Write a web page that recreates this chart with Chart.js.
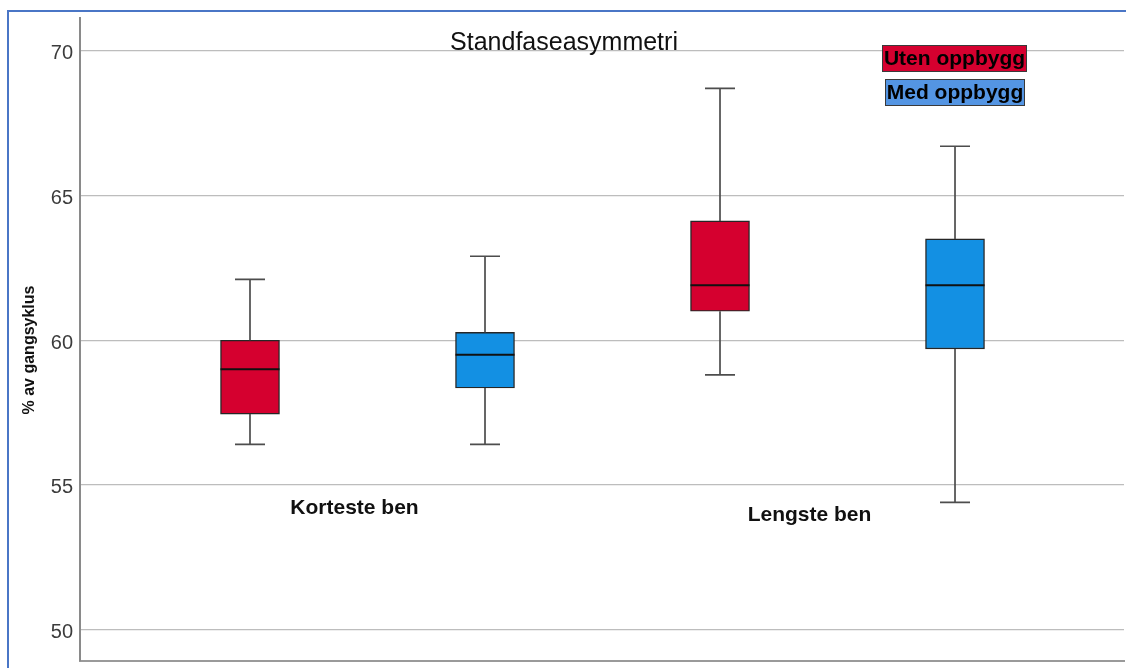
<!DOCTYPE html>
<html>
<head>
<meta charset="utf-8">
<script src="https://cdn.jsdelivr.net/npm/chart.js@4.4.1/dist/chart.umd.min.js"></script>
<style>
  html, body { margin: 0; padding: 0; background: #ffffff; }
  #wrap { position: relative; width: 1126px; height: 668px; overflow: hidden; }
  canvas { position: absolute; left: 0; top: 0; }
  #frame { position: absolute; left: 7px; top: 10px; width: 1130px; height: 670px;
           border-left: 2px solid #4a76c6; border-top: 2px solid #4a76c6; pointer-events: none; }
</style>
</head>
<body>
<div id="wrap">
  <canvas id="chart" width="1126" height="668"></canvas>
  <div id="frame"></div>
</div>
<script>
// Groups along the horizontal axis and the two conditions compared in each
const categories = ['Korteste ben', 'Lengste ben'];
const seriesNames = ['Uten oppbygg', 'Med oppbygg'];

// Five-number summaries, one value per group
const utenMin    = [56.4, 58.8];
const utenQ1     = [57.45, 61.0];
const utenMedian = [59.0, 61.9];
const utenQ3     = [60.0, 64.12];
const utenMax    = [62.1, 68.7];

const medMin     = [56.4, 54.4];
const medQ1      = [58.35, 59.7];
const medMedian  = [59.5, 61.9];
const medQ3      = [60.27, 63.5];
const medMax     = [62.9, 66.7];

const yTicks = [50, 55, 60, 65, 70];

const chartTitle = 'Standfaseasymmetri';
const yTitle = '% av gangsyklus';

const FONT = "'Liberation Sans', Arial, Helvetica, sans-serif";
const boxColors = ['#d5002f', '#1390e3'];
const keyColors = ['#d5002f', '#5495e3'];

function makeSeries(s, q1, q3, lo, med, hi) {
  return {
    label: seriesNames[s],
    data: categories.map((c, i) => ({ x: i * 2 + s + 1, y: [q1[i], q3[i]] })),
    stats: { min: lo, median: med, max: hi },
    backgroundColor: boxColors[s],
    borderColor: '#262626',
    borderWidth: 1.4,
    borderSkipped: false,
    barThickness: 59,
    grouped: false
  };
}

// Whiskers, caps and median lines on top of the floating boxes
const whiskerPlugin = {
  id: 'whiskers',
  afterDatasetsDraw(chart) {
    const ctx = chart.ctx;
    const y = chart.scales.y;
    chart.data.datasets.forEach((ds, d) => {
      const meta = chart.getDatasetMeta(d);
      meta.data.forEach((el, i) => {
        const x = el.x, hw = el.width / 2;
        const yMin = y.getPixelForValue(ds.stats.min[i]);
        const yMax = y.getPixelForValue(ds.stats.max[i]);
        const yMed = y.getPixelForValue(ds.stats.median[i]);
        const yQ1 = y.getPixelForValue(ds.data[i].y[0]);
        const yQ3 = y.getPixelForValue(ds.data[i].y[1]);
        ctx.save();
        ctx.strokeStyle = '#4d4d4d';
        ctx.lineWidth = 1.7;
        ctx.beginPath();
        ctx.moveTo(x, yMax); ctx.lineTo(x, yQ3);
        ctx.moveTo(x, yQ1); ctx.lineTo(x, yMin);
        ctx.moveTo(x - 15, yMax); ctx.lineTo(x + 15, yMax);
        ctx.moveTo(x - 15, yMin); ctx.lineTo(x + 15, yMin);
        ctx.stroke();
        ctx.strokeStyle = '#111111';
        ctx.lineWidth = 2;
        ctx.beginPath();
        ctx.moveTo(x - hw, yMed); ctx.lineTo(x + hw, yMed);
        ctx.stroke();
        ctx.restore();
      });
    });
  }
};

// Title, group labels, axis title and the colour key
const textPlugin = {
  id: 'texts',
  afterDraw(chart) {
    const ctx = chart.ctx;
    const xs = chart.scales.x;
    ctx.save();
    ctx.fillStyle = '#111111';
    ctx.textAlign = 'center';

    ctx.font = '25px ' + FONT;
    ctx.textBaseline = 'alphabetic';
    ctx.fillText(chartTitle, 564, 50);

    ctx.font = 'bold 21px ' + FONT;
    ctx.textBaseline = 'middle';
    const labelShift = [[-13, 508], [-28, 515]];
    categories.forEach((c, i) => {
      const cx = xs.getPixelForValue(i * 2 + 1.5) + labelShift[i][0];
      ctx.fillText(c, cx, labelShift[i][1]);
    });

    ctx.save();
    ctx.translate(30, 350);
    ctx.rotate(-Math.PI / 2);
    ctx.font = 'bold 16px ' + FONT;
    ctx.fillText(yTitle, 0, 0);
    ctx.restore();

    const keyBoxes = [[882, 45, 145, 27], [885, 79, 140, 27]];
    ctx.font = 'bold 21px ' + FONT;
    seriesNames.forEach((name, s) => {
      const [bx, by, bw, bh] = keyBoxes[s];
      ctx.fillStyle = keyColors[s];
      ctx.fillRect(bx, by, bw, bh);
      ctx.strokeStyle = '#3a3a3a';
      ctx.lineWidth = 1;
      ctx.strokeRect(bx + 0.5, by + 0.5, bw - 1, bh - 1);
      ctx.fillStyle = '#000000';
      ctx.fillText(name, bx + bw / 2, by + bh / 2 + 1);
    });
    ctx.restore();
  }
};

new Chart(document.getElementById('chart'), {
  type: 'bar',
  data: {
    datasets: [
      makeSeries(0, utenQ1, utenQ3, utenMin, utenMedian, utenMax),
      makeSeries(1, medQ1, medQ3, medMin, medMedian, medMax)
    ]
  },
  options: {
    responsive: false,
    devicePixelRatio: 1,
    animation: false,
    layout: { padding: { top: 18, bottom: 7, left: 0, right: 2 } },
    plugins: {
      legend: { display: false },
      title: { display: false },
      tooltip: { enabled: false }
    },
    scales: {
      x: {
        type: 'linear',
        offset: false,
        min: 0.2766,
        max: 4.7191,
        ticks: { display: false },
        grid: { display: false },
        border: { display: true, color: '#9a9a9a', width: 2 },
        afterFit(s) { s.height = 0; s.paddingLeft = 0; s.paddingRight = 0; }
      },
      y: {
        min: 48.92,
        max: 71.13,
        afterFit(s) { s.width = 80; s.paddingTop = 0; s.paddingBottom = 0; },
        afterBuildTicks(s) { s.ticks = yTicks.map(v => ({ value: v })); },
        ticks: {
          font: { family: FONT, size: 20 },
          color: '#3c3c3c',
          padding: 7,
          labelOffset: 3
        },
        grid: { color: '#bdbdbd', lineWidth: 1.2, drawTicks: false },
        border: { color: '#8a8a8a', width: 2 }
      }
    }
  },
  plugins: [whiskerPlugin, textPlugin]
});
</script>
</body>
</html>
